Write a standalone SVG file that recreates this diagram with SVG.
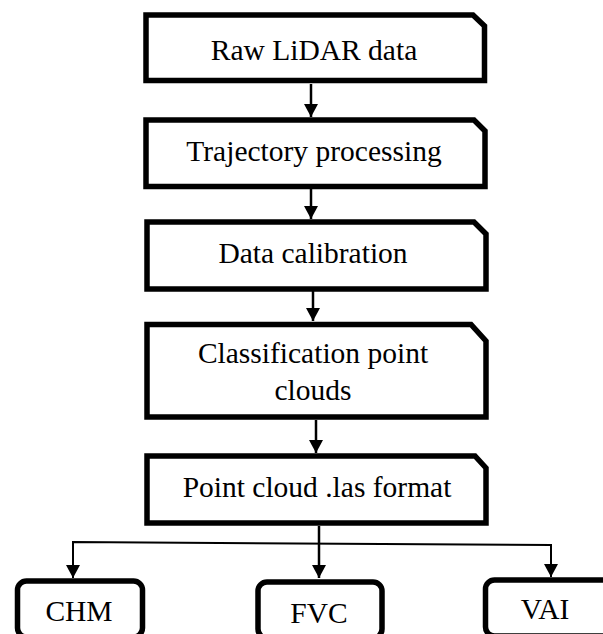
<svg xmlns="http://www.w3.org/2000/svg" width="603" height="634" viewBox="0 0 603 634">
<style>
.box{fill:#fff;stroke:#000;stroke-width:5.5;stroke-linejoin:miter}
.t{font-family:"Liberation Serif","Times New Roman",serif;font-size:29.5px;fill:#000;text-anchor:middle}
.c{stroke:#000;stroke-width:2.5;fill:none}
.c2{stroke:#000;stroke-width:2;fill:none}
</style>
<defs>
<marker id="ah" markerUnits="userSpaceOnUse" markerWidth="14" markerHeight="15" refX="13" refY="7" orient="auto" viewBox="0 0 14 15">
<path d="M0,0 L13,7 L0,14 Z" fill="#000"/>
</marker>
</defs>
<rect width="603" height="634" fill="#fff"/>
<g id="connectors">
<line class="c" x1="311" y1="84" x2="311" y2="117" marker-end="url(#ah)"/>
<line class="c" x1="311" y1="189" x2="311" y2="219" marker-end="url(#ah)"/>
<line class="c" x1="313" y1="291" x2="313" y2="321" marker-end="url(#ah)"/>
<line class="c" x1="316" y1="420" x2="316" y2="453" marker-end="url(#ah)"/>
<line class="c" x1="319" y1="526" x2="319" y2="578" marker-end="url(#ah)"/>
<polyline class="c2" points="73,566 73,542 551,545 551,566"/>
<line class="c2" x1="73" y1="560" x2="73" y2="578" marker-end="url(#ah)"/>
<line class="c2" x1="551" y1="560" x2="551" y2="577" marker-end="url(#ah)"/>
</g>
<g id="raw">
<path class="box" d="M146,15 H473 L484.5,26 V80.5 H146 Z"/>
<text class="t" x="314" y="60">Raw LiDAR data</text>
</g>
<g id="trajectory">
<path class="box" d="M146,120 H474 L485,131 V186.5 H146 Z"/>
<text class="t" x="314" y="161">Trajectory processing</text>
</g>
<g id="calibration">
<path class="box" d="M147,222 H474 L486,234 V289 H147 Z"/>
<text class="t" x="313" y="263">Data calibration</text>
</g>
<g id="classification">
<path class="box" d="M147,324.5 H471 L486,341 V417 H147 Z"/>
<text class="t" x="313" y="363">Classification point</text>
<text class="t" x="313" y="400">clouds</text>
</g>
<g id="pointcloud">
<path class="box" d="M147,456 H475 L486,468 V523 H147 Z"/>
<text class="t" x="317" y="497">Point cloud .las format</text>
</g>
<g id="chm">
<rect class="box" x="17.5" y="581" width="125" height="56" rx="9"/>
<text class="t" x="79" y="621">CHM</text>
</g>
<g id="fvc">
<rect class="box" x="258" y="582" width="124" height="56" rx="9"/>
<text class="t" x="319" y="623">FVC</text>
</g>
<g id="vai">
<rect class="box" x="485.5" y="580" width="130" height="56" rx="9"/>
<text class="t" x="545" y="619">VAI</text>
</g>
</svg>
